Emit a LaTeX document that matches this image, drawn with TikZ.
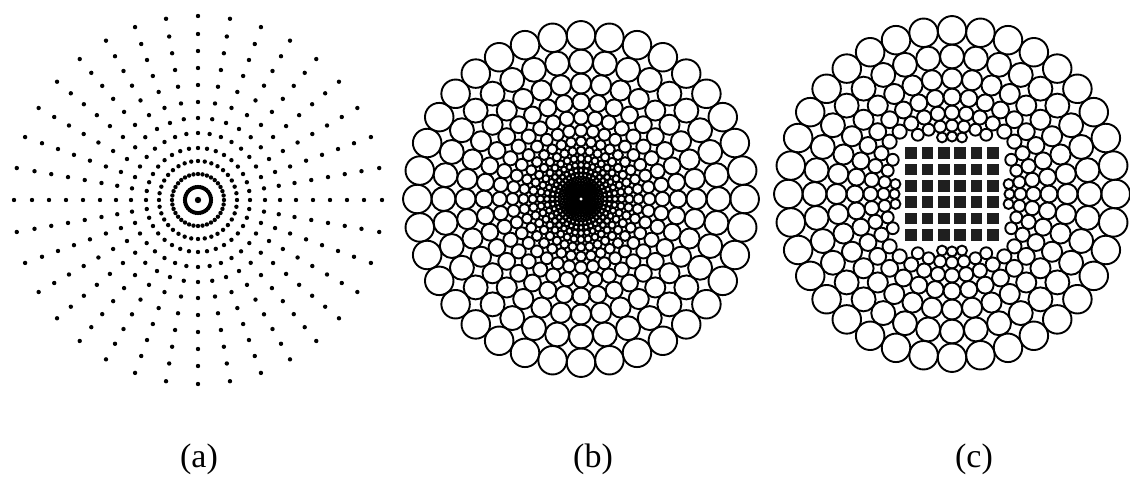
\documentclass[tikz,border=0pt]{standalone}
\usepackage{fontspec}
\setmainfont{Liberation Serif}
\usepackage{tikz}
\tikzset{
  pdot/.style  ={fill=black},
  pring/.style ={draw=black,line width=1.9pt},
  pchip/.style ={fill=black!88},
  plabel/.style={font=\fontsize{34}{38}\selectfont,inner sep=0pt},
}

\begin{document}
\begin{tikzpicture}[x=1pt,y=-1pt]
  \useasboundingbox (0,0) rectangle (1130,480);
  \coordinate (ca) at (198,200);
  \coordinate (cb) at (581,199);
  \coordinate (cc) at (952,194);

  % (a) rings of dots, 36 rays
  \fill[pdot] (ca) circle[radius=3.2pt];
  \foreach \rad in {13,26,39,52,67,82,98,115,132,149,166,184}
    \foreach \j in {0,...,35}
      \fill[pdot] ([shift={(\j*10:\rad pt)}]ca) circle[radius=2.2pt];

  % (b) conformal packing, shrinking towards the centre
  \foreach \k in {0,...,24}{
    \pgfmathsetmacro\rad{163.7*exp(-0.174533*\k)}
    \pgfmathsetmacro\rsz{0.0871*\rad}
    \pgfmathsetmacro\lw{min(1.9,0.9+0.5*\rsz)}
    \foreach \j in {0,...,35}
      \draw[pring,line width=\lw pt] ([shift={(\j*10:\rad pt)}]cb) circle[radius=\rsz pt];
  }

  % (c) same packing with a 6x6 block in the hole
  \foreach \k in {0,...,6}{
    \pgfmathsetmacro\rad{163.7*exp(-0.174533*\k)}
    \pgfmathsetmacro\rsz{0.0871*\rad}
    \foreach \j in {0,...,35}{
      \pgfmathtruncatemacro\keep{and(max(abs(\rad*cos(\j*10)),abs(\rad*sin(\j*10)))>(51+\rsz),\rad-\rsz>50)}
      \ifnum\keep=1
        \draw[pring] ([shift={(\j*10:\rad pt)}]cc) circle[radius=\rsz pt];
      \fi
    }
  }
  \foreach \i in {0,...,5}
    \foreach \j in {0,...,5}
      \fill[pchip] ([shift={({(\i-2.5)*16.3-5.8},{(\j-2.5)*16.3-5.8})}]cc) rectangle ++(11.6,11.6);

  \node[plabel] (laba) at (199,459) {(a)};
  \node[plabel] (labb) at (593,459) {(b)};
  \node[plabel] (labc) at (974,459) {(c)};
\end{tikzpicture}
\end{document}
